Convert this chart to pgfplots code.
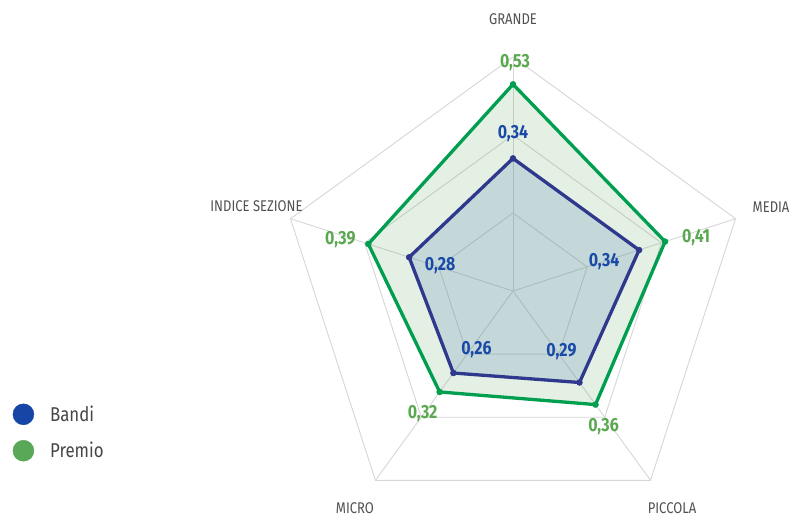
\documentclass[border=0pt]{standalone}
\usepackage{pgfplots}
\pgfplotsset{compat=1.18}
\usepgfplotslibrary{polar}
\usepackage{pgfplotstable}
\usepackage{fontspec}
\setmainfont{Fira Sans}
\newfontfamily\condfont{Fira Sans}[FakeStretch=0.84]

\definecolor{premioline}{RGB}{0,158,79}
\definecolor{bandiline}{RGB}{46,56,140}
\definecolor{premiotxt}{RGB}{90,168,80}
\definecolor{banditxt}{RGB}{26,74,168}
\definecolor{catc}{RGB}{80,80,80}
\definecolor{legtxt}{RGB}{70,70,70}
\definecolor{bandileg}{RGB}{22,70,165}
\definecolor{premioleg}{RGB}{88,168,88}
\definecolor{gridc}{RGB}{214,214,214}
\definecolor{premiofill}{RGB}{100,170,100}
\definecolor{bandifill}{RGB}{73,120,178}

% angle, value, label offset
\pgfplotstableread{
ang r dx dy
90 0.53 2 22
18 0.41 31 4
306 0.36 8 -22
234 0.32 -17 -21.5
162 0.39 -28 4
}\premio
\pgfplotstableread{
ang r dx dy
90 0.34 0 25
18 0.34 -35 -12
306 0.29 -18 31
234 0.26 23 23
162 0.28 31 -8
}\bandi
\pgfplotstableread{
ang r lab dx dy
90 0.6 GRANDE 0 38
18 0.6 MEDIA 35.5 11.7
306 0.6 PICCOLA 21.5 -27.7
234 0.6 MICRO -20.5 -27.7
162 0.6 {INDICE SEZIONE} -34 12.7
}\cats

\begin{document}
\begin{tikzpicture}
\begin{polaraxis}[
  at={(513pt,225pt)}, anchor=center,
  width=468pt, height=468pt, scale only axis,
  ymin=0, ymax=0.6, xmin=0, xmax=360,
  hide axis, clip=false,
  legend cell align=left,
  legend style={at={(axis description cs:-0.5694,0.1976)}, anchor=west, draw=none, fill=none,
    inner sep=0pt, row sep=15pt, column sep=16pt,
    nodes={inner sep=0pt, font=\condfont\fontsize{20}{22}\selectfont, text=legtxt}},
  /pgf/number format/.cd, use comma, fixed, fixed zerofill, precision=2,
  assume math mode=true,
]
\addlegendimage{legend image code/.code={\fill[bandileg] (0pt,0pt) circle (10.5pt);}}
\addlegendentry{Bandi}
\addlegendimage{legend image code/.code={\fill[premioleg] (0pt,0pt) circle (10.5pt);}}
\addlegendentry{Premio}

% grid
\addplot[gridc, line width=0.9pt, forget plot] coordinates {(90,0.2) (18,0.2) (306,0.2) (234,0.2) (162,0.2)} -- cycle;
\addplot[gridc, line width=0.9pt, forget plot] coordinates {(90,0.4) (18,0.4) (306,0.4) (234,0.4) (162,0.4)} -- cycle;
\addplot[gridc, line width=0.9pt, forget plot] coordinates {(90,0.6) (18,0.6) (306,0.6) (234,0.6) (162,0.6)} -- cycle;
\addplot[gridc, line width=0.9pt, forget plot] coordinates {(90,0) (90,0.6)};
\addplot[gridc, line width=0.9pt, forget plot] coordinates {(18,0) (18,0.6)};
\addplot[gridc, line width=0.9pt, forget plot] coordinates {(306,0) (306,0.6)};
\addplot[gridc, line width=0.9pt, forget plot] coordinates {(234,0) (234,0.6)};
\addplot[gridc, line width=0.9pt, forget plot] coordinates {(162,0) (162,0.6)};

% areas
\addplot[premioline, line width=3.3pt, line join=round, fill=premiofill, fill opacity=0.175, forget plot]
  table[x=ang, y=r] {\premio} -- cycle;
\addplot[bandiline, line width=3.3pt, line join=round, fill=bandifill, fill opacity=0.2, forget plot]
  table[x=ang, y=r] {\bandi} -- cycle;

% points and value labels
\addplot[only marks, mark=*, mark size=3pt, premioline, forget plot,
  point meta=explicit, nodes near coords,
  visualization depends on={\thisrow{dx} \as \dx},
  visualization depends on={\thisrow{dy} \as \dy},
  every node near coord/.append style={anchor=center, xshift=\dx pt, yshift=\dy pt,
    font=\condfont\bfseries\fontsize{19}{21}\selectfont, text=premiotxt}]
  table[x=ang, y=r, meta=r] {\premio};
\addplot[only marks, mark=*, mark size=3pt, bandiline, forget plot,
  point meta=explicit, nodes near coords,
  visualization depends on={\thisrow{dx} \as \dx},
  visualization depends on={\thisrow{dy} \as \dy},
  every node near coord/.append style={anchor=center, xshift=\dx pt, yshift=\dy pt,
    font=\condfont\bfseries\fontsize{19}{21}\selectfont, text=banditxt}]
  table[x=ang, y=r, meta=r] {\bandi};

% category labels
\addplot[only marks, mark=text, text mark={}, forget plot,
  point meta=explicit symbolic, nodes near coords,
  visualization depends on={\thisrow{dx} \as \dx},
  visualization depends on={\thisrow{dy} \as \dy},
  every node near coord/.append style={anchor=center, xshift=\dx pt, yshift=\dy pt,
    font=\condfont\fontsize{15.5}{17}\selectfont, text=catc}]
  table[x=ang, y=r, meta=lab] {\cats};
\end{polaraxis}
\pgfresetboundingbox
\useasboundingbox (0,0) rectangle (790pt,516pt);
\end{tikzpicture}
\end{document}
